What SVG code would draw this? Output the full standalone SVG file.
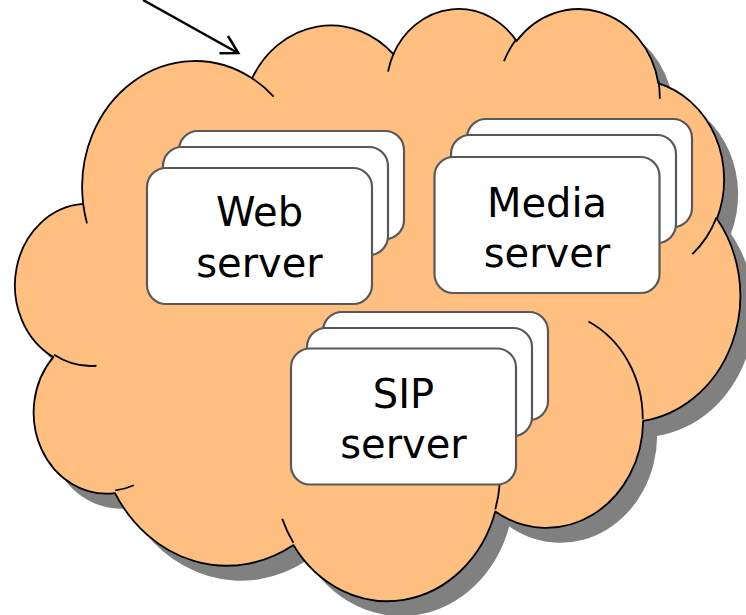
<svg xmlns="http://www.w3.org/2000/svg" width="746" height="615" viewBox="0 0 746 615">
<defs>
<style>
.shadow{fill:#808080;stroke:none}
.body{fill:#FFBF80;stroke:#000;stroke-width:1.8;stroke-linejoin:round}
.stub{fill:none;stroke:#000;stroke-width:1.8}
.card{fill:#fff;stroke:#595959;stroke-width:2.2}
.label{font-family:"DejaVu Sans","Liberation Sans",sans-serif;font-size:40px;fill:#000;text-anchor:middle}
.arrow{fill:none;stroke:#000;stroke-width:2.5;stroke-linejoin:miter}
</style>
<path id="cloudPath" vector-effect="non-scaling-stroke" d="M3900 14370 A6753 9190 0 0 1 14005 5202 A5333 7267 0 0 1 22456 3432 A4365 5945 0 0 1 29833 2480 A4857 6595 0 0 1 38318 5575 A5333 7273 0 0 1 41818 15459 A6775 9220 0 0 1 37404 30202 A5785 7867 0 0 1 28556 36813 A6752 9215 0 0 1 16480 39264 A7720 10543 0 0 1 5805 35470 A4360 5918 0 0 1 2113 25548 A4345 5945 0 0 1 3900 14370 Z"/>
</defs>
<g id="cloud">
<use href="#cloudPath" class="shadow" transform="translate(32,22) scale(0.016713,0.013704)"/>
<use href="#cloudPath" class="body" transform="translate(18,7) scale(0.016713,0.013704)"/>
<path class="stub" vector-effect="non-scaling-stroke" transform="translate(18,7) scale(0.016713,0.013704)" d="M4693 26177 A4345 5945 0 0 1 2160 25380 M6928 34899 A4360 5918 0 0 1 5820 35280 M16478 39090 A6752 9215 0 0 1 15810 37350 M28827 34751 A6752 9215 0 0 1 28560 36660 M34129 22954 A5785 7867 0 0 1 37380 30090 M41798 15354 A5333 7273 0 0 1 40350 18030 M38324 5426 A4857 6595 0 0 1 38400 6690 M29078 3952 A4857 6595 0 0 1 29820 2341 M22141 4720 A4365 5945 0 0 1 22500 3330 M14000 5192 A6753 9190 0 0 1 15300 6540 M4127 15789 A6753 9190 0 0 1 3900 14371"/>
</g>
<g id="web-server">
<rect class="card" x="179" y="131" width="225" height="108" rx="19"/>
<rect class="card" x="163" y="147" width="225" height="108" rx="19"/>
<rect class="card" x="147" y="168" width="225" height="136" rx="19"/>
<text class="label" x="259.5" y="226">Web</text>
<text class="label" x="259.5" y="277">server</text>
</g>
<g id="media-server">
<rect class="card" x="467" y="119" width="225" height="108" rx="19"/>
<rect class="card" x="451" y="135" width="225" height="108" rx="19"/>
<rect class="card" x="434.5" y="157" width="225" height="136" rx="19"/>
<text class="label" x="547" y="217">Media</text>
<text class="label" x="547" y="267">server</text>
</g>
<g id="sip-server">
<rect class="card" x="323" y="312" width="225" height="108" rx="19"/>
<rect class="card" x="307" y="328" width="225" height="108" rx="19"/>
<rect class="card" x="291" y="348.5" width="225" height="136" rx="19"/>
<text class="label" x="403.5" y="408">SIP</text>
<text class="label" x="403.5" y="458">server</text>
</g>
<g id="connectors">
<path class="arrow" d="M143 0 L238 53"/>
<path class="arrow" d="M219.5 53.3 L238.3 53 L228 36"/>
</g>
</svg>
